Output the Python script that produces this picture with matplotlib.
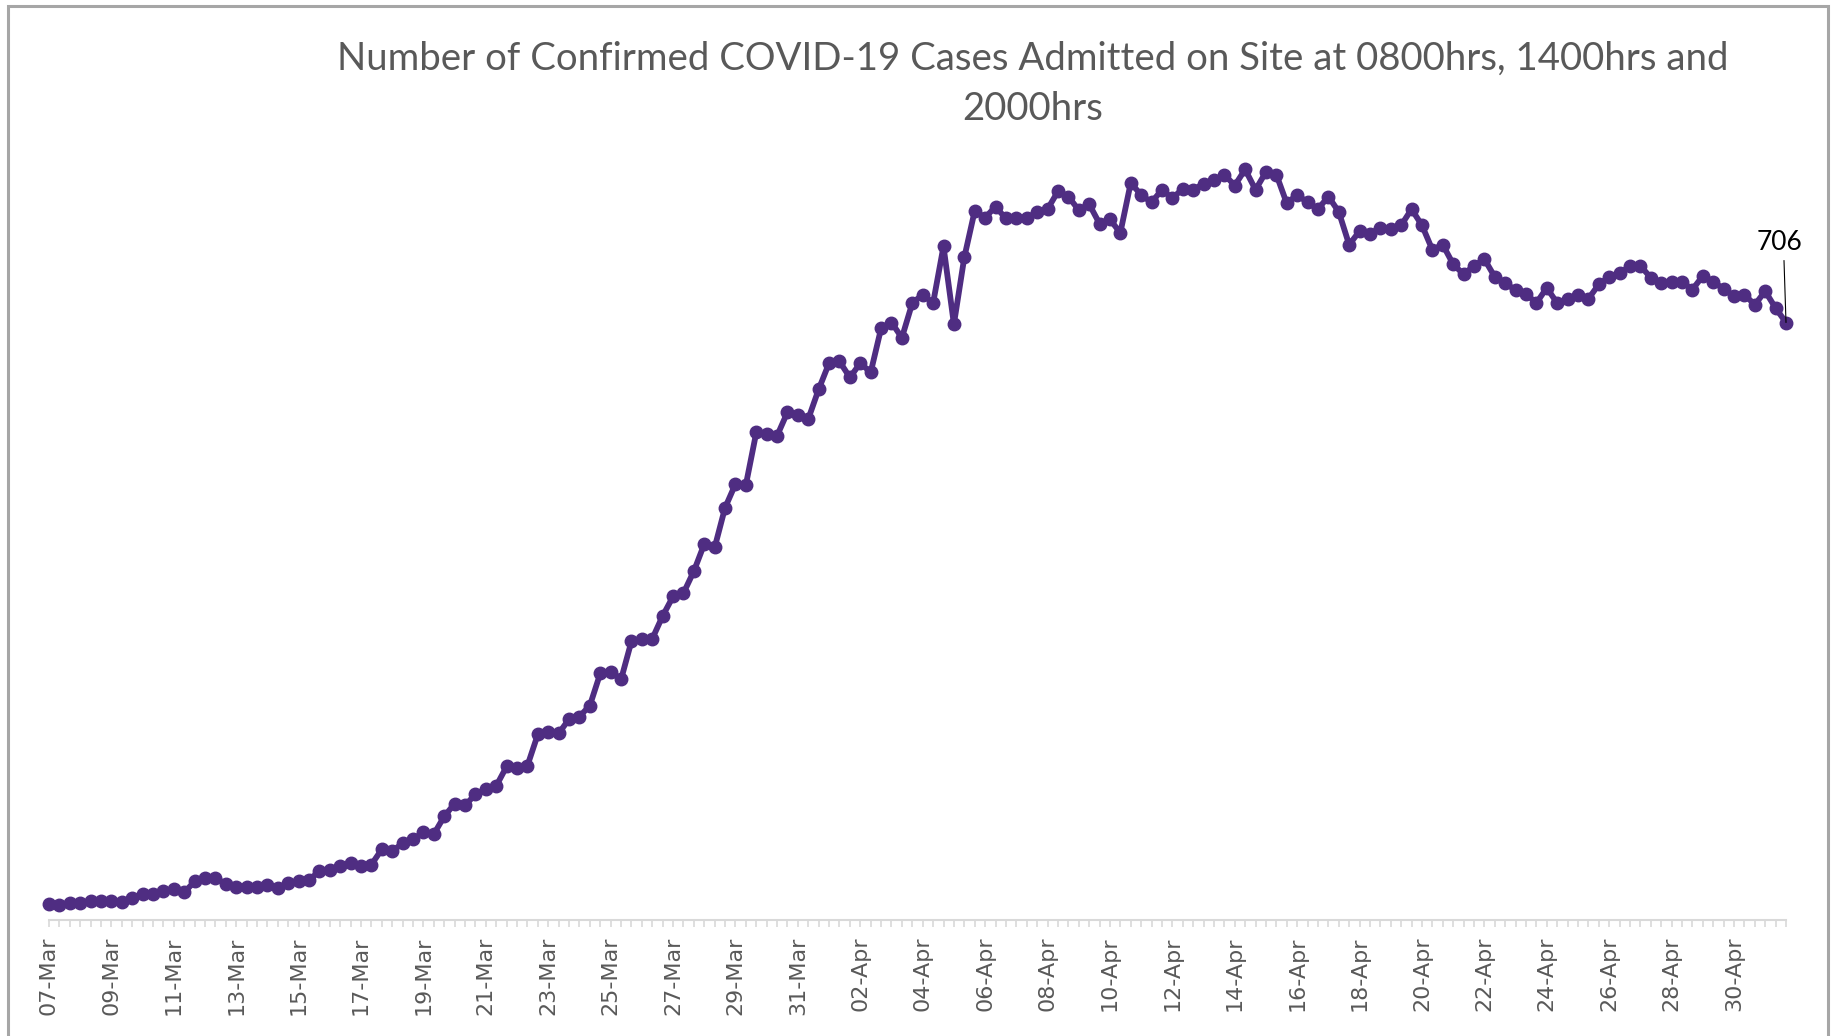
import matplotlib
matplotlib.use("Agg")
import matplotlib.pyplot as plt
from matplotlib.patches import Rectangle
import numpy as np

# ---- data -------------------------------------------------------------
title_text = "Number of Confirmed COVID-19 Cases Admitted on Site at 0800hrs, 1400hrs and\n2000hrs"

day_labels = ["07-Mar", "08-Mar", "09-Mar", "10-Mar", "11-Mar", "12-Mar", "13-Mar", "14-Mar",
              "15-Mar", "16-Mar", "17-Mar", "18-Mar", "19-Mar", "20-Mar", "21-Mar", "22-Mar",
              "23-Mar", "24-Mar", "25-Mar", "26-Mar", "27-Mar", "28-Mar", "29-Mar", "30-Mar",
              "31-Mar", "01-Apr", "02-Apr", "03-Apr", "04-Apr", "05-Apr", "06-Apr", "07-Apr",
              "08-Apr", "09-Apr", "10-Apr", "11-Apr", "12-Apr", "13-Apr", "14-Apr", "15-Apr",
              "16-Apr", "17-Apr", "18-Apr", "19-Apr", "20-Apr", "21-Apr", "22-Apr", "23-Apr",
              "24-Apr", "25-Apr", "26-Apr", "27-Apr", "28-Apr", "29-Apr", "30-Apr", "01-May"]

# consecutive readings (0800, 1400, 2000 for each day)
cases_mar07_mar15 = [18, 17, 20, 20, 22, 22, 22, 21, 25, 30, 30, 34, 36, 32, 45, 49, 49, 42,
                     38, 38, 39, 41, 37, 43, 45, 47, 57]
cases_mar16_mar25 = [59, 63, 67, 63, 65, 83, 81, 90, 95, 103, 101, 122, 137, 135, 148, 154,
                     158, 181, 179, 182, 219, 222, 220, 237, 240, 253, 291, 293, 284]
cases_mar26_apr03 = [329, 332, 332, 359, 382, 386, 412, 444, 440, 487, 515, 514, 576, 574,
                     572, 600, 597, 592, 627, 658, 660, 641, 658, 647, 699, 706, 688]
cases_apr04_apr13 = [729, 739, 729, 796, 704, 783, 838, 830, 843, 829, 829, 829, 837, 840,
                     861, 855, 839, 846, 823, 828, 812, 871, 857, 848, 863, 853, 864, 863]
cases_apr13_apr22 = [870, 874, 881, 868, 887, 863, 884, 881, 847, 857, 848, 840, 855, 837,
                     798, 814, 811, 818, 817, 821, 840, 821, 792, 798, 775, 763, 773, 781, 760]
cases_apr23_may01 = [753, 744, 740, 729, 747, 729, 734, 738, 734, 751, 760, 764, 773, 773,
                     759, 753, 754, 754, 745, 761, 754, 746, 737, 739, 727, 743, 723, 706]

cases = (cases_mar07_mar15 + cases_mar16_mar25 + cases_mar26_apr03 +
         cases_apr04_apr13 + cases_apr13_apr22 + cases_apr23_may01)
readings_per_day = 3
last_label = "706"

# ---- figure -----------------------------------------------------------
W, H = 1833, 1036
fig = plt.figure(figsize=(W / 100, H / 100), dpi=100)

x = np.arange(len(cases))
left_px, right_px = 49, 1786
bottom_px, top_px = 919.5, 150
ax = fig.add_axes([left_px / W, 1 - bottom_px / H,
                   (right_px - left_px) / W, (bottom_px - top_px) / H])

purple = "#4F2D82"
ax.plot(x, cases, color=purple, lw=4.2, marker="o", ms=9, mfc=purple, mec=purple,
        zorder=3, clip_on=False, solid_joinstyle="round")

ax.set_xlim(0, len(cases) - 1)
ax.set_ylim(0, 910)

for s in ("left", "top", "right"):
    ax.spines[s].set_visible(False)
ax.spines["bottom"].set_color("#D9D9D9")
ax.spines["bottom"].set_linewidth(1.5)
ax.set_yticks([])

major_idx = list(range(0, len(cases), readings_per_day * 2))
ax.set_xticks(major_idx)
ax.set_xticklabels([day_labels[i // readings_per_day] for i in major_idx],
                   rotation=90, fontsize=16, color="#595959", family="DejaVu Sans")
ax.set_xticks(x, minor=True)
ax.tick_params(axis="x", which="both", length=5, width=1.2, color="#D9D9D9", pad=7)

# data label for last point
ax.annotate("", xy=(x[-1], cases[-1]), xytext=(-2, 62), textcoords="offset pixels",
            arrowprops=dict(arrowstyle="-", color="black", lw=0.8, shrinkA=0, shrinkB=0))
ax.annotate(last_label, xy=(x[-1], cases[-1]), xytext=(-6, 80), textcoords="offset pixels",
            ha="center", va="center", fontsize=19, family="Lato", color="black")

# title
t = fig.text(1033 / W, 1 - 84 / H, title_text, ha="center", va="center",
             fontsize=28, family="Lato", color="#595959", linespacing=1.47)
fig.canvas.draw()
r = fig.canvas.get_renderer()
wd = t.get_window_extent(r).width
t.set_fontsize(28 * 1391 / wd)

# chart border
fig.add_artist(Rectangle((8 / W, -0.05), (1828 - 8) / W, 1.05 - 6 / H,
                         transform=fig.transFigure, fill=False,
                         edgecolor="#A6A6A6", lw=2.2, clip_on=False))

fig.savefig("out.png", dpi=100)
